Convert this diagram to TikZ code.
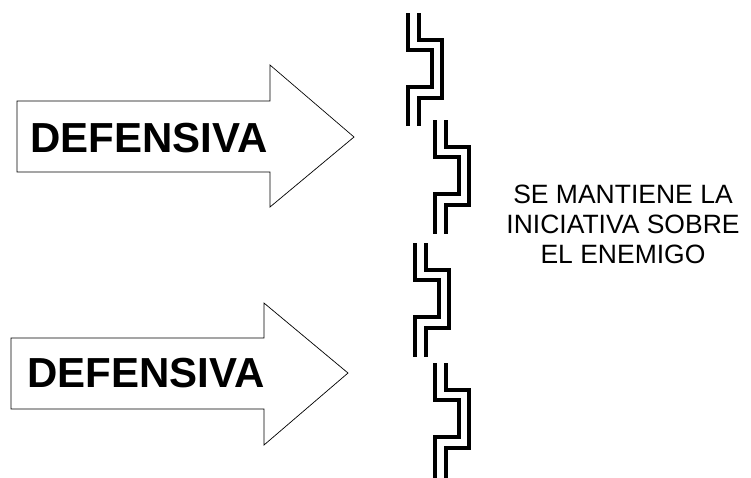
\documentclass[tikz,border=0pt]{standalone}
\usepackage{fontspec}
\setmainfont{Liberation Sans}
\newcommand\zigshape[3]{%
  % #1 = x of left line, #2 = top y, #3 = bottom y
  \draw[zig] (#1,#2) -- (#1,#2+37) -- (#1+24,#2+37) -- (#1+24,#2+74) -- (#1,#2+74) -- (#1,#3);
  \draw[zig] (#1+11,#2) -- (#1+11,#2+27) -- (#1+34,#2+27) -- (#1+34,#2+85) -- (#1+11,#2+85) -- (#1+11,#3);
}
\begin{document}
\begin{tikzpicture}[x=1pt,y=-1pt,
  zig/.style={line width=3.2pt,line join=miter,black},
  bigarrow/.style={draw=black,line width=0.7pt,fill=white,line join=miter},
  arrowtext/.style={font=\bfseries\fontsize{42}{46}\selectfont,inner sep=0pt},
  sidetext/.style={font=\fontsize{26.5}{30}\selectfont,inner sep=0pt,anchor=base}]
\useasboundingbox (0,0) rectangle (751,477);
% arrows
\draw[bigarrow] (17,101) -- (270,101) -- (270,65) -- (354,137) -- (270,207) -- (270,172) -- (17,172) -- cycle;
\node[arrowtext] (d1) at (149,138) {DEFENSIVA};
\draw[bigarrow] (11,338) -- (264,338) -- (264,303) -- (348,373) -- (264,445) -- (264,409) -- (11,409) -- cycle;
\node[arrowtext] (d2) at (146,373) {DEFENSIVA};
% zigzag lines
\zigshape{408}{13}{126}
\zigshape{435}{120}{234}
\zigshape{415}{243}{357}
\zigshape{435}{363}{480}
% side text
\node[sidetext] (t1) at (623,203) {SE MANTIENE LA};
\node[sidetext] (t2) at (623,233) {INICIATIVA SOBRE};
\node[sidetext] (t3) at (623,263) {EL ENEMIGO};
\end{tikzpicture}
\end{document}
